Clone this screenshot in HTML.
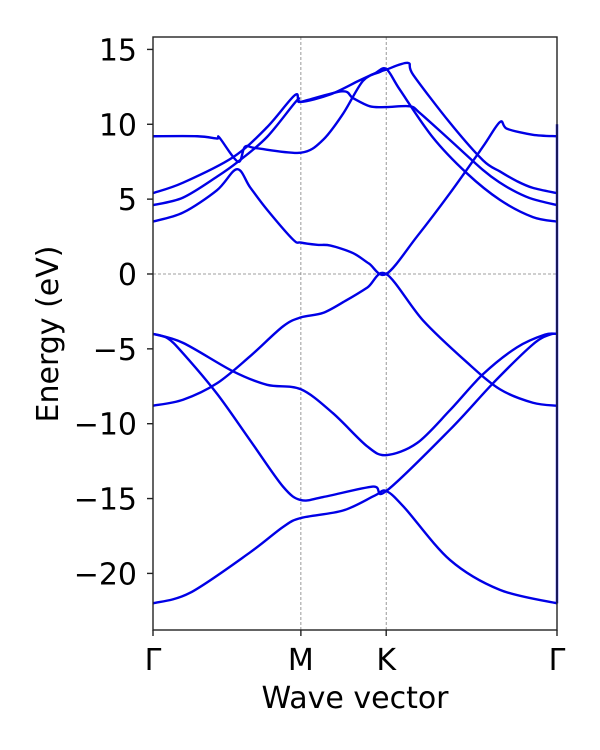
<!DOCTYPE html>
<html><head><meta charset="utf-8"><style>
body{margin:0;background:#fff;}
svg{display:block;font-family:"DejaVu Sans","Liberation Sans",sans-serif;}
</style></head><body>
<svg id="chart" width="600" height="750">
<rect width="600" height="750" fill="#fff"/>
<g id="grid"></g>
<g id="bands"></g>
<rect x="153" y="37" width="404" height="593" fill="none" stroke="#222" stroke-width="1.4"/>
<g id="yticks"></g>
<g id="xticks"></g>
<text x="58" y="334" font-size="30" text-anchor="middle" transform="rotate(-90 58 334)">Energy (eV)</text>
<text x="355" y="708" font-size="30" text-anchor="middle">Wave vector</text>
</svg>
<script>
const yTicks=[15,10,5,0,-5,-10,-15,-20];
const yTickLabels=["15","10","5","0","\u22125","\u221210","\u221215","\u221220"];
const kPoints=[0,1.0,1.577,2.732];
const kLabels=["\u0393","M","K","\u0393"];
const bandA_k=[0,0.25,0.656,0.879,1.0,1.285,1.5,1.577,1.7,2.008,2.346,2.732];
const bandA_e=[-22,-21.3,-18.6,-16.9,-16.3,-15.8,-14.8,-14.5,-15.6,-19.1,-21.1,-22];
const bandB_k=[0,0.1,0.203,0.433,0.656,0.879,1.0,1.15,1.487,1.577,2.008,2.299,2.569,2.684,2.732];
const bandB_e=[-4,-4.3,-5.3,-8,-11.1,-14.2,-15.1,-14.9,-14.2,-14.5,-10.4,-7.3,-4.7,-4.05,-4];
const bandC_k=[0,0.203,0.541,0.771,1.0,1.217,1.447,1.577,1.785,2.008,2.231,2.461,2.65,2.732];
const bandC_e=[-4,-4.6,-6.5,-7.4,-7.7,-9.3,-11.5,-12.1,-11.3,-9.1,-6.7,-4.9,-4.05,-4];
const bandD_k=[0,0.203,0.433,0.656,0.879,1.0,1.15,1.3,1.45,1.577,1.826,2.123,2.346,2.569,2.732];
const bandD_e=[-8.8,-8.4,-7.3,-5.5,-3.5,-2.9,-2.6,-1.8,-0.9,0,-3.1,-5.9,-7.7,-8.6,-8.8];
const bandP_k=[0,0.203,0.433,0.568,0.656,0.771,0.947,1.0,1.11,1.2,1.352,1.46,1.577,1.785,2.008,2.231,2.346,2.394,2.569,2.732];
const bandP_e=[3.5,4.1,5.6,7.0,5.8,4.3,2.3,2.1,1.95,1.9,1.4,0.7,0,2.5,5.4,8.5,10.15,9.7,9.3,9.2];
const bandQ_k=[0,0.203,0.433,0.575,0.771,0.974,1.0,1.278,1.352,1.467,1.577,1.738,1.805,2.008,2.231,2.346,2.461,2.569,2.732];
const bandQ_e=[4.6,5.1,6.5,7.5,9.15,11.6,11.5,12.2,11.75,11.2,11.15,11.2,10.75,8.95,6.95,6.1,5.45,5.0,4.6];
const bandR_k=[0,0.203,0.541,0.771,0.96,1.0,1.2,1.39,1.5,1.577,1.67,1.89,2.12,2.346,2.569,2.732];
const bandR_e=[5.4,6.1,7.8,9.8,11.95,11.5,12.0,12.9,13.4,13.7,12.3,9.15,6.75,4.95,3.8,3.5];
const bandS_k=[0,0.3,0.433,0.45,0.575,0.622,0.7,1.0,1.149,1.285,1.42,1.535,1.577,1.724,1.76,2.008,2.231,2.346,2.461,2.569,2.732];
const bandS_e=[9.2,9.2,9.05,9.1,7.5,8.5,8.4,8.1,8.95,10.7,12.9,13.5,13.65,14.1,13.3,10.1,7.6,6.85,6.2,5.75,5.4];
const edge_k=[2.732,2.732];
const edge_e=[-22,10];

const X0=153,X1=557,Y0=37,Y1=630,KMAX=2.732,EMIN=-23.78,EMAX=15.83;
const xs=k=>X0+(k/KMAX)*(X1-X0);
const ys=e=>Y1-(e-EMIN)/(EMAX-EMIN)*(Y1-Y0);
const NS="http://www.w3.org/2000/svg";
function mk(tag,attrs,parent){const el=document.createElementNS(NS,tag);for(const a in attrs)el.setAttribute(a,attrs[a]);parent.appendChild(el);return el;}

const grid=document.getElementById('grid');
kPoints.slice(1,3).forEach(k=>{
  const l=mk('line',{x1:xs(k),x2:xs(k),y1:Y0,y2:Y1,stroke:'#808080','stroke-width':0.8,'stroke-dasharray':'3,2'},grid);
  
  
});
const zl=mk('line',{x1:X0,x2:X1,y1:ys(0),y2:ys(0),stroke:'#808080','stroke-width':0.8,'stroke-dasharray':'3,2'},grid);



const yg=document.getElementById('yticks');
yTicks.forEach((v,i)=>{
  const t=mk('line',{x1:X0-6,x2:X0,y1:ys(v),y2:ys(v),stroke:'#222','stroke-width':1.4},yg);
  
  
  const tx=mk('text',{x:X0-16,y:ys(v)+11,'font-size':30,'text-anchor':'end'},yg);
  tx.textContent=yTickLabels[i];
  
  
});
const xg=document.getElementById('xticks');
kPoints.forEach((k,i)=>{
  const t=mk('line',{x1:xs(k),x2:xs(k),y1:Y1,y2:Y1+6,stroke:'#222','stroke-width':1.4},xg);
  
  
  const tx=mk('text',{x:xs(k),y:Y1+40,'font-size':30,'text-anchor':'middle'},xg);
  tx.textContent=kLabels[i];
  
  
});

function pathFor(ks,es){
  const p=ks.map((k,i)=>[xs(k),ys(es[i])]);
  let d='M'+p[0][0].toFixed(2)+','+p[0][1].toFixed(2);
  for(let i=0;i<p.length-1;i++){
    const p0=p[i-1]||p[i],p1=p[i],p2=p[i+1],p3=p[i+2]||p[i+1];
    const t=0.16;
    const c1=[p1[0]+(p2[0]-p0[0])*t,p1[1]+(p2[1]-p0[1])*t];
    const c2=[p2[0]-(p3[0]-p1[0])*t,p2[1]-(p3[1]-p1[1])*t];
    d+='C'+c1[0].toFixed(2)+','+c1[1].toFixed(2)+' '+c2[0].toFixed(2)+','+c2[1].toFixed(2)+' '+p2[0].toFixed(2)+','+p2[1].toFixed(2);
  }
  return d;
}
const bg=document.getElementById('bands');
[[bandA_k,bandA_e],[bandB_k,bandB_e],[bandC_k,bandC_e],[bandD_k,bandD_e],[bandP_k,bandP_e],[bandQ_k,bandQ_e],[bandR_k,bandR_e],[bandS_k,bandS_e],[edge_k,edge_e]].forEach((b,i)=>{
  const el=mk('path',{d:pathFor(b[0],b[1]),fill:'none',stroke:'#0000e6','stroke-width':2.4,'stroke-linejoin':'round'},bg);
  
  
});
</script>
</body></html>
